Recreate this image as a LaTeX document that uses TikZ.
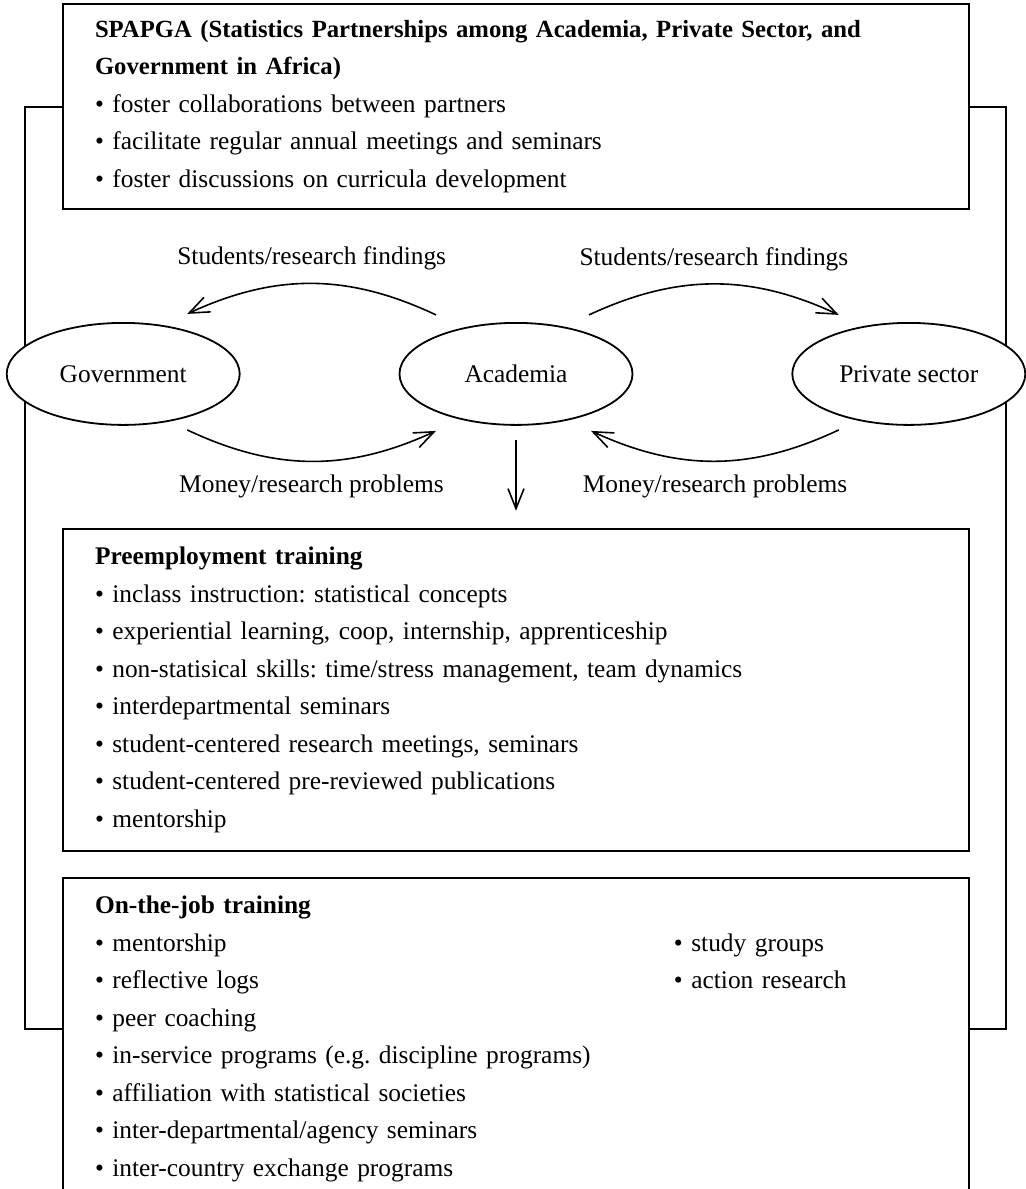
\documentclass[tikz,border=0pt]{standalone}
\usepackage{fontspec}
\setmainfont{Liberation Serif}
\frenchspacing
\usetikzlibrary{shapes.geometric, arrows.meta, positioning}

\begin{document}
\begin{tikzpicture}[
    x=0.5pt, y=-0.5pt,
    font=\fontsize{12.7}{18.75}\selectfont,
    box/.style={rectangle, draw=black, line width=1pt, fill=white, minimum width=453pt, text width=421pt, inner xsep=16pt, inner ysep=0pt, align=left},
    party/.style={ellipse, draw=black, line width=0.9pt, fill=white, minimum width=116.5pt, minimum height=51pt, inner sep=0pt},
    arrow/.style={-{Straight Barb[length=10pt, width=8pt]}, draw=black, line width=0.8pt},
    label_text/.style={font=\fontsize{12.7}{15}\selectfont}
]
\useasboundingbox (0,0) rectangle (1026,1189);
\clip (0,0) rectangle (1026,1189);

% Frame
\draw [line width=1pt] (25,107) rectangle (1006,1029);

% Nodes
\node (spapga) [box, minimum height=102.5pt] at (516,106.5) {{\fontsize{12.35}{18.75}\selectfont\textbf{SPAPGA (Statistics Partnerships among Academia, Private Sector, and}}\\
{\fontsize{12.35}{18.75}\selectfont\textbf{Government in Africa)}}\\
\textbullet\ foster collaborations between partners\\
\textbullet\ facilitate regular annual meetings and seminars\\
\textbullet\ foster discussions on curricula development};

\node (academia) [party, below=56pt of spapga] {Academia};
\node (government) [party, left=79pt of academia] {Government};
\node (private) [party, right=79pt of academia] {Private sector};

\node (preemp) [box, minimum height=161pt, below=51pt of academia] {\textbf{Preemployment training}\\
\textbullet\ inclass instruction: statistical concepts\\
\textbullet\ experiential learning, coop, internship, apprenticeship\\
\textbullet\ non-statisical skills: time/stress management, team dynamics\\
\textbullet\ interdepartmental seminars\\
\textbullet\ student-centered research meetings, seminars\\
\textbullet\ student-centered pre-reviewed publications\\
\textbullet\ mentorship};

\node (onjob) [box, minimum height=161pt, below=12.5pt of preemp] {\textbf{On-the-job training}\\
\makebox[289.5pt][l]{\textbullet\ mentorship}\textbullet\ study groups\\
\makebox[289.5pt][l]{\textbullet\ reflective logs}\textbullet\ action research\\
\textbullet\ peer coaching\\
\textbullet\ in-service programs (e.g. discipline programs)\\
\textbullet\ affiliation with statistical societies\\
\textbullet\ inter-departmental/agency seminars\\
\textbullet\ inter-country exchange programs};

% Paths
\draw [arrow] ([shift={(-80,-59)}]academia.center) to[bend right=25] node[midway, yshift=12.5pt, label_text] {Students/research findings} ([shift={(64,-60)}]government.center);
\draw [arrow] ([shift={(73,-59)}]academia.center) to[bend left=25] node[midway, yshift=12.5pt, label_text] {Students/research findings} ([shift={(-70,-59)}]private.center);
\draw [arrow] ([shift={(64,56)}]government.center) to[bend right=25] node[midway, yshift=-12.5pt, label_text] {Money/research problems} ([shift={(-80,57)}]academia.center);
\draw [arrow] ([shift={(-70,56)}]private.center) to[bend left=25] node[midway, yshift=-12.5pt, label_text] {Money/research problems} ([shift={(75,57)}]academia.center);
\draw [arrow, shorten <=7pt, shorten >=8.5pt] (academia.south) -- (academia.south |- preemp.north);

\end{tikzpicture}
\end{document}
